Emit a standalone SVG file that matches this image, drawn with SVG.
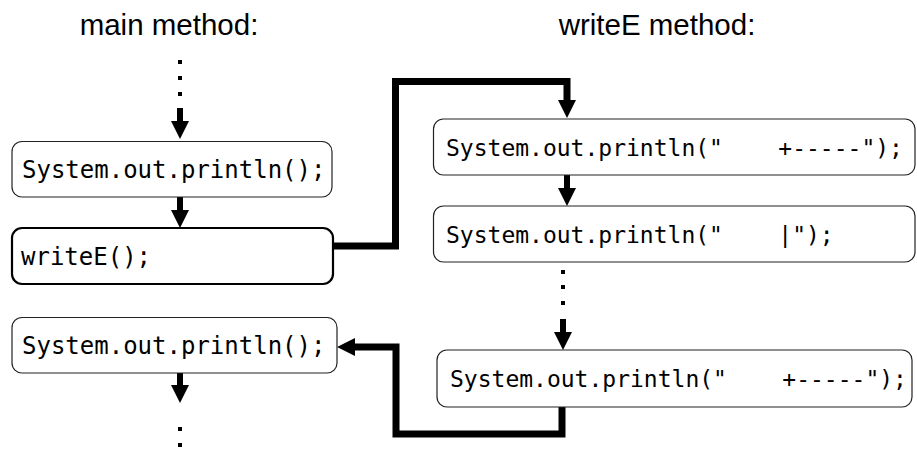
<svg xmlns="http://www.w3.org/2000/svg" width="917" height="459" viewBox="0 0 917 459">
<defs>
<marker id="ah" viewBox="0 0 18 18" refX="0" refY="9" markerWidth="18" markerHeight="18" markerUnits="userSpaceOnUse" orient="auto">
<path d="M0,0 L18,9 L0,18 z" fill="#000"/>
</marker>
<style>
.title{font-family:"Liberation Sans",Arial,sans-serif;font-size:29.5px;fill:#000;text-anchor:middle}
.code{font-family:"DejaVu Sans Mono",monospace;font-size:24px;fill:#000;white-space:pre}
.code.r{font-size:23px}
.box{fill:#fff;stroke:#222;stroke-width:1.2}
.box.bold{stroke:#000;stroke-width:2.2}
.flow{fill:none;stroke:#000;stroke-width:6;marker-end:url(#ah)}
.call{fill:none;stroke:#000;stroke-width:7;stroke-linejoin:miter;marker-end:url(#ah)}
.dot{fill:#000}
</style>
</defs>
<rect width="917" height="459" fill="#fff"/>
<g id="title-main"><text class="title" x="169" y="35">main method:</text></g>
<g id="title-writeE"><text class="title" x="657" y="35">writeE method:</text></g>

<g id="connectors">
<rect class="dot" x="178" y="60" width="4" height="4"/>
<rect class="dot" x="178" y="76" width="4" height="4"/>
<rect class="dot" x="178" y="92" width="4" height="4"/>
<path class="flow" d="M180,108 V121"/>
<path class="flow" d="M180,197 V210"/>
<path class="call" d="M333,246 H395.5 V81.5 H567 V100"/>
<path class="flow" d="M567,175 V188"/>
<rect class="dot" x="561" y="270" width="4" height="4"/>
<rect class="dot" x="561" y="285" width="4" height="4"/>
<rect class="dot" x="561" y="301" width="4" height="4"/>
<path class="flow" d="M563,319 V332"/>
<path class="call" d="M562,407 V434 H396 V347 H355"/>
<path class="flow" d="M180,373 V385"/>
<rect class="dot" x="178" y="427" width="4" height="4"/>
<rect class="dot" x="178" y="443" width="4" height="4"/>
</g>

<g id="main-println1"><rect class="box" x="12" y="141.5" width="320" height="55.5" rx="10"/><text class="code" x="22" y="178">System.out.println();</text></g>
<g id="main-writeE"><rect class="box bold" x="12" y="228" width="321" height="56" rx="10"/><text class="code" x="21" y="265">writeE();</text></g>
<g id="main-println2"><rect class="box" x="12" y="317.5" width="325" height="55.5" rx="10"/><text class="code" x="22" y="353.5">System.out.println();</text></g>
<g id="writeE-line1"><rect class="box" x="433.5" y="119" width="481.5" height="56" rx="10"/><text class="code r" x="446" y="155.5">System.out.println("    +-----");</text></g>
<g id="writeE-line2"><rect class="box" x="433.5" y="206" width="481.5" height="56" rx="10"/><text class="code r" x="446" y="243">System.out.println("    |");</text></g>
<g id="writeE-line3"><rect class="box" x="437" y="350" width="475" height="57" rx="10"/><text class="code r" x="450" y="387">System.out.println("    +-----");</text></g>
</svg>
